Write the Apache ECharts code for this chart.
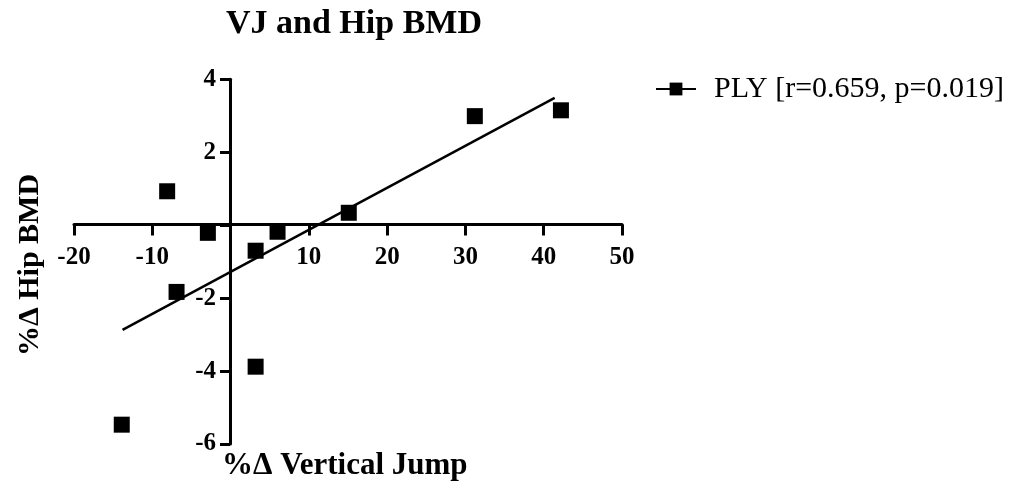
<!DOCTYPE html>
<html>
<head>
<meta charset="utf-8">
<script src="https://cdn.jsdelivr.net/npm/echarts@6/dist/echarts.min.js"></script>
<style>
html,body{margin:0;padding:0;background:#fff;}
#chart{width:1023px;height:490px;}
</style>
</head>
<body>
<div id="chart"></div>
<script>
const titleText = 'VJ and Hip BMD';
const xName = '%\u0394 Vertical Jump';
const yName = '%\u0394 Hip BMD';
const seriesName = 'PLY [r=0.659, p=0.019]';
const vjChange = [-13.9, -8.1, -6.9, -2.9, 3.2, 3.2, 6.0, 15.1, 31.2, 42.2];
const hipChange = [-5.47, 0.93, -1.83, -0.21, -0.70, -3.88, -0.18, 0.34, 2.99, 3.15];
const fitX = [-13.8, 41.4];
const fitY = [-2.87, 3.49];

const serif = '"Liberation Serif", "DejaVu Serif", serif';
const gridLeft = 74, gridRight = 401, gridTop = 79.3, gridBottom = 46;
const chart = echarts.init(document.getElementById('chart'));
chart.setOption({
  animation: false,
  backgroundColor: '#fff',
  title: {
    text: titleText, left: 349, top: 2, textAlign: 'center',
    textStyle: {fontFamily: serif, fontWeight: 'bold', fontSize: 34, color: '#000'}
  },
  legend: {
    data: [seriesName], left: 650, top: 69, orient: 'vertical',
    itemWidth: 40, itemHeight: 16, itemGap: 10,
    textStyle: {fontFamily: serif, fontSize: 30, color: '#000', padding: [0, 0, 0, 13]}
  },
  grid: {left: gridLeft, right: gridRight, top: gridTop, bottom: gridBottom},
  xAxis: {
    type: 'value', min: -20, max: 50, interval: 10, position: 'bottom',
    offset: -(490 - gridBottom - 224.5),
    axisLine: {onZero: false, lineStyle: {color: '#000', width: 3}},
    axisTick: {show: true, length: 11, lineStyle: {color: '#000', width: 3}},
    axisLabel: {
      margin: 21, fontFamily: serif, fontWeight: 'bold', fontSize: 25, color: '#000',
      formatter: v => (v === 0 ? '' : String(v))
    },
    splitLine: {show: false}
  },
  yAxis: {
    type: 'value', min: -6, max: 4, interval: 2, position: 'left',
    offset: -(230 - gridLeft),
    axisLine: {onZero: false, lineStyle: {color: '#000', width: 3}},
    axisTick: {show: true, length: 10, lineStyle: {color: '#000', width: 3}},
    axisLabel: {
      margin: 14, fontFamily: serif, fontWeight: 'bold', fontSize: 25, color: '#000',
      formatter: v => (v === 0 ? '' : String(v))
    },
    splitLine: {show: false}
  },
  graphic: [
    {type: 'text', left: 222, top: 450,
     style: {text: xName, font: 'bold 31px ' + serif, fill: '#000'}},
    {type: 'text', x: 30, y: 265, rotation: Math.PI / 2,
     style: {text: yName, font: 'bold 30px ' + serif, fill: '#000', align: 'center', verticalAlign: 'middle'}}
  ],
  series: [
    {
      name: 'points', type: 'scatter', symbol: 'rect', symbolSize: 16,
      itemStyle: {color: '#000', opacity: 1},
      data: vjChange.map((x, i) => [x, hipChange[i]])
    },
    {
      name: seriesName, type: 'line', symbol: 'rect', symbolSize: 16, showSymbol: false,
      itemStyle: {color: '#000', opacity: 1},
      lineStyle: {color: '#000', width: 2.5},
      data: fitX.map((x, i) => [x, fitY[i]])
    }
  ]
});
</script>
</body>
</html>
